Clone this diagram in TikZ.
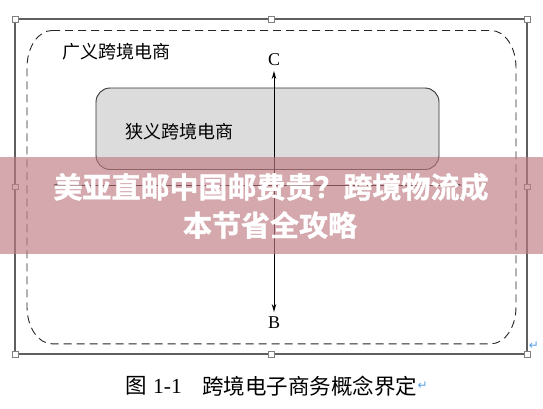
\documentclass[tikz,border=0pt]{standalone}
\usepackage{fontspec}
\setmainfont{Liberation Serif}
\newfontfamily\cjk{Noto Sans CJK SC}
\newfontfamily\cjkb[FakeBold=1.2]{Noto Sans CJK SC Bold}
\newfontfamily\symf{DejaVu Sans}
\usetikzlibrary{arrows.meta}
\definecolor{framegray}{RGB}{95,95,95}
\definecolor{innerfill}{RGB}{220,220,220}
\definecolor{bannerc}{RGB}{190,124,130}
\definecolor{retblue}{RGB}{90,160,230}
\tikzset{
  frame/.style={draw=framegray, line width=1.4pt},
  handle/.style={draw=gray, fill=white, line width=0.5pt, minimum size=5.5pt, inner sep=0pt},
  dashbox/.style={draw=black!85, line width=0.9pt, dash pattern=on 8pt off 5pt},
  innerbox/.style={draw=black!80, fill=innerfill, line width=0.9pt, rounded corners=14pt},
  zhlabel/.style={font=\cjk\fontsize{18}{21}\selectfont, inner sep=0pt, anchor=west},
  letter/.style={font=\fontsize{18}{21}\selectfont, inner sep=0pt},
  arr/.style={line width=0.9pt, -{Stealth[length=8pt,width=4.5pt]}},
  banner/.style={fill=bannerc, fill opacity=0.66, draw=none},
  bannertext/.style={font=\cjkb\fontsize{29}{33}\selectfont, text=white, inner sep=0pt},
  captext/.style={font=\cjk\fontsize{21.5}{25}\selectfont, inner sep=0pt, anchor=west},
  retmark/.style={font=\symf\fontsize{12}{14}\selectfont, text=retblue, inner sep=0pt}
}
\begin{document}
\begin{tikzpicture}[x=1pt,y=-1pt]
\useasboundingbox (0,0) rectangle (543,408);
\fill[white] (0,0) rectangle (543,408);
% outer frame
\draw[frame] (15,19) rectangle (527,354);
% dashed rounded box (elliptical corners)
\draw[dashbox] (52,30.5) -- (491,30.5)
  arc[start angle=270, end angle=360, x radius=25, y radius=37]
  -- (516,306.8)
  arc[start angle=0, end angle=90, x radius=25, y radius=37]
  -- (52,343.8)
  arc[start angle=90, end angle=180, x radius=25, y radius=37]
  -- (27,67.5)
  arc[start angle=180, end angle=270, x radius=25, y radius=37]
  -- cycle;
% inner gray box
\draw[innerbox] (96,88) rectangle (439,169.5);
% labels
\node[zhlabel] (wide) at (62,52) {广义跨境电商};
\node[zhlabel] (narrow) at (125,132) {狭义跨境电商};
\node[letter] (C) at (274,60) {C};
\node[letter] (B) at (274,323) {B};
\coordinate (ctip) at (274,71);
\coordinate (btip) at (274,312);
\coordinate (mid) at (274,185);
\draw[arr] (mid) -- (ctip);
\draw[arr] (mid) -- (btip);
% horizontal arrow (mostly hidden under banner)
\coordinate (ltip) at (53,185);
\coordinate (rtip) at (462,185);
\draw[arr] (mid) -- (ltip);
\draw[arr] (mid) -- (rtip);
% handles
\foreach \p in {(15,19),(271,19),(527,19),(15,186.5),(527,186.5),(15,354),(271,354),(527,354)}
  \node[handle] at \p {};
% return marks
\node[retmark] (ret1) at (534,346) {↵};
% banner
\fill[banner] (0,157) rectangle (543,254);
\node[bannertext] (t1) at (271,187) {美亚直邮中国邮费贵？跨境物流成};
\node[bannertext] (t2) at (270,225) {本节省全攻略};
% caption
\node[captext] (fig) at (125,386) {图};
\node[inner sep=0pt, anchor=west, font=\fontsize{21.5}{25}\selectfont] (num) at (153,386) {1-1};
\node[captext] (cap) at (202,386) {跨境电子商务概念界定};
\node[retmark, anchor=west] (ret2) at (cap.east) {↵};
\end{tikzpicture}
\end{document}
